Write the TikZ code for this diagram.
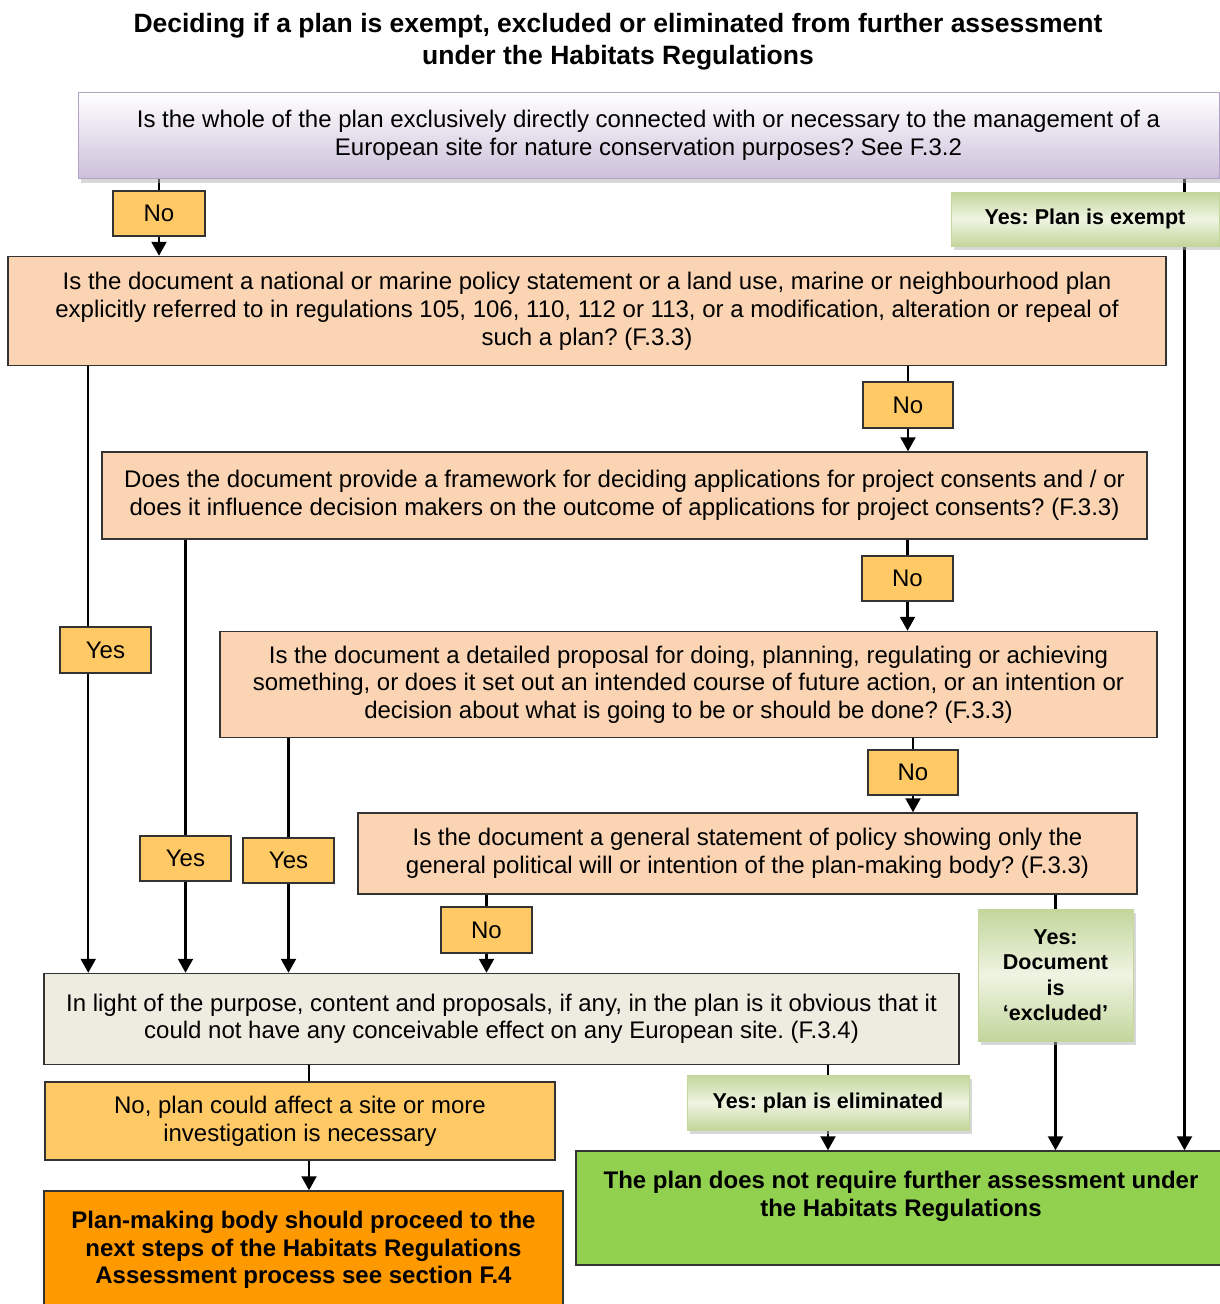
\documentclass[tikz,border=0pt]{standalone}
\usepackage{fontspec}
\setmainfont{Liberation Sans}
\usetikzlibrary{arrows.meta,shadows,backgrounds}

\definecolor{peach}{HTML}{FBD4B4}
\definecolor{answer}{HTML}{FFC966}
\definecolor{stone}{HTML}{EEECE1}
\definecolor{amber}{HTML}{FF9900}
\definecolor{leaf}{HTML}{92D050}
\definecolor{sagedark}{HTML}{C3D69B}
\definecolor{sagelight}{HTML}{EEF4E2}
\definecolor{lavender}{HTML}{CCC0DA}
\definecolor{lavenderline}{HTML}{B3A2C7}

\frenchspacing
\begin{document}
\begin{tikzpicture}[x=1pt,y=-1pt,
	size/.style 2 args={minimum width=#1pt,minimum height=#2pt},
	box/.style={rectangle,draw=black!80,line width=1.5pt,align=center,inner sep=0pt,font=\fontsize{24}{28}\selectfont},
	question/.style={box,fill=peach},
	reply/.style={box,fill=answer},
	soft/.style={box,draw=sagedark,line width=1pt,top color=sagedark,bottom color=sagedark,middle color=sagelight,font=\bfseries\fontsize{21.5}{25.5}\selectfont,drop shadow={shadow xshift=3pt,shadow yshift=-4pt,fill=black!30}},
	link/.style={line width=2.2pt,black},
	arr/.style={link,-{Triangle[length=14pt,width=15pt]}}]

	\useasboundingbox (0,0) rectangle (1219,1304);

	\node[align=center,font=\bfseries\fontsize{26.5}{32}\selectfont] (title) at (618,42)
		{Deciding if a plan is exempt, excluded or eliminated from further assessment\\under the Habitats Regulations};

	% questions
	\node[box,size={1141}{86},draw=lavenderline,line width=1pt,top color=white,bottom color=lavender,drop shadow={shadow xshift=3pt,shadow yshift=-4pt,fill=black!30}] (top) at (648.5,135.5)
		{Is the whole of the plan exclusively directly connected with or necessary to the management of a\\European site for nature conservation purposes? See F.3.2};
	\node[question,size={1158}{109}] (q2) at (587,311)
		{Is the document a national or marine policy statement or a land use, marine or neighbourhood plan\\explicitly referred to in regulations 105, 106, 110, 112 or 113, or a modification, alteration or repeal of\\such a plan? (F.3.3)};
	\node[question,size={1045}{87}] (q3) at (624.5,495.5)
		{Does the document provide a framework for deciding applications for project consents and / or\\does it influence decision makers on the outcome of applications for project consents? (F.3.3)};
	\node[question,size={937}{106},font=\fontsize{24}{27.5}\selectfont] (q4) at (688.5,684.5)
		{Is the document a detailed proposal for doing, planning, regulating or achieving\\something, or does it set out an intended course of future action, or an intention or\\decision about what is going to be or should be done? (F.3.3)};
	\node[question,size={779}{81}] (q5) at (747.5,853.5)
		{Is the document a general statement of policy showing only the\\general political will or intention of the plan-making body? (F.3.3)};
	\node[box,fill=stone,size={915}{91},font=\fontsize{24}{27}\selectfont] (light) at (501.5,1019)
		{In light of the purpose, content and proposals, if any, in the plan is it obvious that it\\could not have any conceivable effect on any European site. (F.3.4)};

	% answers
	\node[reply,size={92}{45}] (no1) at (159,213.5) {No};
	\node[reply,size={90}{46}] (no2) at (908,405) {No};
	\node[reply,size={91}{45}] (no3) at (907.5,578.5) {No};
	\node[reply,size={90}{45}] (no4) at (913,772.5) {No};
	\node[reply,size={91}{46}] (no5) at (486.5,930) {No};
	\node[reply,size={91}{46}] (yes1) at (105.5,650) {Yes};
	\node[reply,size={91}{45}] (yes2) at (185.5,858.5) {Yes};
	\node[reply,size={91}{45}] (yes3) at (288.5,860.5) {Yes};
	\node[soft,size={268}{54}] (exempt) at (1085,219) {Yes: Plan is exempt};
	\node[soft,size={155}{132}] (excluded) at (1055.5,975) {Yes:\\Document\\is\\‘excluded’};
	\node[soft,size={282}{55}] (eliminated) at (828,1102.5) {Yes: plan is eliminated};
	\node[reply,size={510}{78}] (affect) at (300,1121)
		{No, plan could affect a site or more\\investigation is necessary};

	% outcomes
	\node[box,fill=amber,size={519}{118},font=\bfseries\fontsize{24}{27.5}\selectfont] (proceed) at (303.5,1250)
		{Plan-making body should proceed to the\\next steps of the Habitats Regulations\\Assessment process see section F.4};
	\node[box,fill=leaf,size={650}{114},font=\bfseries\fontsize{24}{28}\selectfont] (final) at (901,1208)
		{The plan does not require further assessment under\\the Habitats Regulations\\\mbox{}};

	% connectors
	\begin{scope}[on background layer]
		\draw[arr] (top.south -| no1) -- (q2.north -| no1);
		\draw[arr] ([xshift=-35pt]top.south east) -- ([xshift=-35pt]top.south east |- final.north);
		\draw[arr] ([xshift=81pt]q2.south west) -- ([xshift=81pt]q2.south west |- light.north);
		\draw[arr] (q2.south -| no2) -- (q3.north -| no2);
		\draw[arr] (q3.south -| yes2) -- (light.north -| yes2);
		\draw[arr] (q3.south -| no3) -- (q4.north -| no3);
		\draw[arr] (q4.south -| yes3) -- (light.north -| yes3);
		\draw[arr] (q4.south -| no4) -- (q5.north -| no4);
		\draw[arr] (q5.south -| no5) -- (light.north -| no5);
		\draw[arr] (q5.south -| excluded) -- (final.north -| excluded);
		\draw[arr] (light.south -| eliminated) -- (final.north -| eliminated);
		\draw[link] ([xshift=9pt]light.south -| affect) -- ([xshift=9pt]affect.north);
		\draw[arr] ([xshift=9pt]affect.south) -- ([xshift=9pt]affect.south |- proceed.north);
	\end{scope}

\end{tikzpicture}
\end{document}
